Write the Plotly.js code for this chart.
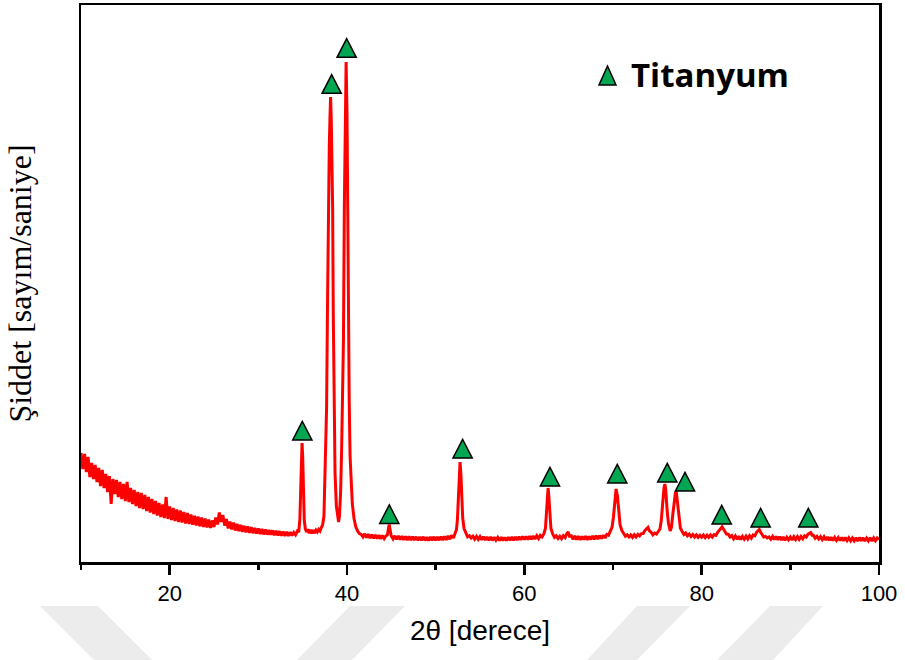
<!DOCTYPE html>
<html>
<head>
<meta charset="utf-8">
<script src="https://cdn.plot.ly/plotly-3.0.1.min.js"></script>
<style>
  html, body { margin: 0; padding: 0; background: #ffffff; }
  #chart { width: 905px; height: 660px; }
</style>
</head>
<body>
<div id="chart"></div>
<script>
// XRD scan of the titanium sample, 2θ = 10°–100°, split into scan segments.
const angleLowBg = [
  10.0, 10.2, 10.4, 10.6, 10.8, 11.0, 11.2, 11.4, 11.6, 11.8,
  12.0, 12.2, 12.4, 12.6, 12.8, 13.0, 13.2, 13.4, 13.6, 13.8,
  14.0, 14.2, 14.4, 14.6, 14.8, 15.0, 15.2, 15.4, 15.6, 15.8,
  16.0, 16.2, 16.4, 16.6, 16.8, 17.0, 17.2, 17.4, 17.6, 17.8,
  18.0, 18.2, 18.4, 18.6, 18.8, 19.0, 19.2, 19.4, 19.6, 19.8,
  20.0, 20.2, 20.4, 20.6, 20.8, 21.0, 21.2, 21.4, 21.6, 21.8,
  22.0, 22.2, 22.4, 22.6, 22.8, 23.0, 23.2, 23.4, 23.6, 23.8,
  24.0, 24.2, 24.4, 24.6, 24.8, 25.0, 25.2, 25.4, 25.6, 25.8,
  26.0, 26.2, 26.4, 26.6, 26.8, 27.0, 27.2, 27.4, 27.6, 27.8,
  28.0, 28.2, 28.4, 28.6, 28.8, 29.0, 29.2, 29.4, 29.6, 29.8,
  30.0, 30.2, 30.4, 30.6, 30.8, 31.0, 31.2, 31.4, 31.6, 31.8,
  32.0, 32.2, 32.4, 32.6, 32.8, 33.0, 33.2, 33.4, 33.6, 33.8, 34.0
];
const countsLowBg = [
  1090, 930, 1080, 900, 1050, 850, 990, 830, 970, 800,
  940, 760, 920, 740, 880, 700, 860, 580, 830, 680,
  820, 650, 800, 630, 780, 610, 800, 600, 740, 580,
  720, 560, 700, 540, 690, 530, 670, 510, 650, 495,
  630, 480, 610, 465, 590, 450, 575, 440, 650, 430,
  555, 420, 540, 410, 525, 400, 515, 395, 500, 385,
  490, 380, 475, 372, 462, 365, 455, 358, 445, 350,
  435, 345, 425, 340, 415, 350, 445, 375, 495, 400,
  470, 365, 430, 335, 405, 325, 395, 315, 382, 308,
  372, 302, 362, 296, 355, 292, 348, 288, 340, 284,
  335, 280, 330, 276, 325, 274, 320, 272, 316, 268,
  312, 266, 308, 264, 304, 262, 302, 262, 298, 264, 296
];

const angleMainPeaks = [
  34.2, 34.4, 34.55, 34.68, 34.78, 34.86, 34.93, 35.0, 35.08, 35.18,
  35.3, 35.45, 35.6, 35.75, 35.9, 36.05, 36.2, 36.35, 36.5, 36.65,
  36.8, 36.95, 37.1, 37.25, 37.4, 37.55, 37.7, 37.8, 37.9, 38.0,
  38.08, 38.15, 38.22, 38.3, 38.38, 38.45, 38.52, 38.65, 38.8, 38.95,
  39.05, 39.15, 39.28, 39.4, 39.5, 39.6, 39.7, 39.8, 39.9, 40.0,
  40.07, 40.15, 40.25, 40.35, 40.45, 40.6, 40.8, 41.0, 41.2, 41.4, 41.6
];
const countsMainPeaks = [
  272, 310, 300, 420, 760, 1100, 1190, 1060, 700, 420,
  330, 300, 328, 288, 322, 286, 320, 290, 318, 300,
  326, 310, 345, 370, 460, 900, 1550, 2550, 3550, 4150,
  4450, 4650, 4450, 4000, 3550, 2500, 1550, 890, 560, 430,
  400, 460, 700, 1150, 1600, 2220, 3550, 4400, 5000, 4500,
  3550, 2500, 1600, 1050, 800, 580, 430, 350, 310, 285, 275
];

const angleMid = [
  41.8, 42.0, 42.2, 42.4, 42.6, 42.8, 43.0, 43.2, 43.4, 43.6,
  43.8, 44.0, 44.2, 44.4, 44.55, 44.66, 44.76, 44.86, 44.98, 45.2,
  45.4, 45.6, 45.8, 46.0, 46.2, 46.4, 46.6, 46.8, 47.0, 47.2,
  47.4, 47.6, 47.8, 48.0, 48.2, 48.4, 48.6, 48.8, 49.0, 49.2,
  49.4, 49.6, 49.8, 50.0, 50.2, 50.4, 50.6, 50.8, 51.0, 51.2,
  51.4, 51.6, 51.8, 52.0, 52.2, 52.35, 52.45, 52.55, 52.65, 52.75,
  52.85, 52.95, 53.05, 53.2, 53.4, 53.6, 53.8, 54.0, 54.2, 54.4,
  54.6, 54.8, 55.0, 55.2, 55.4, 55.6, 55.8, 56.0, 56.2, 56.4,
  56.6, 56.8, 57.0, 57.2, 57.4, 57.6, 57.8, 58.0, 58.2, 58.4,
  58.6, 58.8, 59.0, 59.2, 59.4, 59.6, 59.8, 60.0, 60.2, 60.4,
  60.6, 60.8, 61.0, 61.2, 61.4, 61.6, 61.8, 62.0, 62.2, 62.38,
  62.5, 62.6, 62.68, 62.76, 62.86, 63.0, 63.2, 63.4, 63.6, 63.8,
  64.0, 64.2, 64.4, 64.6
];
const countsMid = [
  250, 282, 244, 278, 240, 274, 236, 270, 234, 268,
  232, 266, 234, 262, 270, 325, 375, 322, 262, 230,
  262, 226, 260, 224, 258, 222, 256, 220, 256, 218,
  254, 220, 252, 216, 250, 218, 252, 216, 248, 214,
  250, 218, 252, 216, 250, 218, 254, 220, 256, 222,
  260, 228, 266, 240, 282, 325, 420, 650, 880, 1000,
  870, 620, 440, 335, 290, 252, 262, 240, 258, 228,
  256, 226, 254, 222, 252, 220, 250, 218, 250, 216,
  248, 218, 246, 214, 248, 216, 246, 214, 248, 218,
  250, 216, 250, 220, 252, 222, 254, 224, 256, 226,
  258, 228, 260, 230, 262, 234, 266, 250, 280, 335,
  500, 680, 740, 660, 470, 335, 280, 246, 262, 236,
  258, 232, 262, 244
];

const angleHigh = [
  64.8, 64.95, 65.1, 65.3, 65.5, 65.7, 65.9, 66.1, 66.3, 66.5,
  66.7, 66.9, 67.1, 67.3, 67.5, 67.7, 67.9, 68.1, 68.3, 68.5,
  68.7, 68.9, 69.1, 69.3, 69.5, 69.7, 69.9, 70.05, 70.2, 70.35,
  70.5, 70.65, 70.8, 71.0, 71.2, 71.4, 71.6, 71.8, 72.0, 72.2,
  72.4, 72.6, 72.8, 73.0, 73.2, 73.4, 73.6, 73.8, 73.95, 74.1,
  74.3, 74.5, 74.7, 74.9, 75.1, 75.3, 75.45, 75.6, 75.75, 75.85,
  75.95, 76.1, 76.25, 76.45, 76.6, 76.75, 76.9, 77.05, 77.15, 77.3,
  77.45, 77.6, 77.8, 78.0, 78.2, 78.4, 78.6, 78.8, 79.0, 79.2,
  79.4, 79.6, 79.8, 80.0
];
const countsHigh = [
  285, 300, 258, 262, 226, 260, 224, 258, 222, 256,
  224, 258, 222, 256, 226, 260, 228, 262, 230, 264,
  234, 268, 240, 276, 268, 305, 350, 450, 620, 730,
  660, 480, 370, 315, 290, 258, 272, 250, 270, 246,
  272, 250, 276, 262, 284, 285, 315, 335, 345, 312,
  298, 272, 290, 280, 305, 330, 420, 600, 740, 780,
  720, 520, 390, 310, 350, 480, 620, 700, 690, 560,
  420, 340, 305, 275, 290, 262, 280, 254, 274, 250,
  270, 246, 268, 248
];

const angleTail = [
  80.2, 80.4, 80.6, 80.8, 81.0, 81.2, 81.4, 81.6, 81.8, 82.0,
  82.15, 82.3, 82.45, 82.6, 82.8, 83.0, 83.2, 83.4, 83.6, 83.8,
  84.0, 84.2, 84.4, 84.6, 84.8, 85.0, 85.2, 85.4, 85.6, 85.8,
  86.0, 86.2, 86.35, 86.5, 86.65, 86.8, 87.0, 87.2, 87.4, 87.6,
  87.8, 88.0, 88.2, 88.4, 88.6, 88.8, 89.0, 89.2, 89.4, 89.6,
  89.8, 90.0, 90.2, 90.4, 90.6, 90.8, 91.0, 91.2, 91.4, 91.6,
  91.8, 92.0, 92.15, 92.3, 92.45, 92.6, 92.8, 93.0, 93.2, 93.4,
  93.6, 93.8, 94.0, 94.2, 94.4, 94.6, 94.8, 95.0, 95.2, 95.4,
  95.6, 95.8, 96.0, 96.2, 96.4, 96.6, 96.8, 97.0, 97.2, 97.4,
  97.6, 97.8, 98.0, 98.2, 98.4, 98.6, 98.8, 99.0, 99.2, 99.4,
  99.6, 99.8, 100.0
];
const countsTail = [
  270, 244, 268, 246, 270, 250, 274, 266, 296, 318,
  342, 352, 330, 310, 280, 278, 250, 264, 232, 260,
  228, 258, 226, 256, 228, 258, 230, 262, 238, 270,
  262, 298, 312, 325, 298, 282, 250, 256, 240, 250,
  228, 256, 224, 254, 222, 252, 220, 250, 218, 248,
  222, 250, 220, 252, 224, 254, 226, 256, 232, 262,
  250, 280, 290, 295, 268, 268, 238, 256, 230, 254,
  224, 252, 220, 250, 218, 248, 216, 246, 216, 244,
  214, 246, 212, 244, 214, 242, 212, 240, 212, 242,
  210, 244, 212, 242, 210, 240, 212, 242, 210, 240,
  212, 240, 226
];

// Reflections identified as titanium: marker position and the height of its base
const titaniumAngle = [34.96, 38.27, 39.96, 44.77, 53.04, 62.89, 70.48, 76.12, 78.12, 82.26, 86.65, 92.03];
const titaniumMarkBase = [1220, 4687, 5047, 385, 1040, 760, 790, 800, 710, 380, 350, 350];

const legendLabel = 'Titanyum';
const xTitle = '2θ [derece]';
const yTitle = 'Şiddet [sayım/saniye]';

const twoTheta = [].concat(angleLowBg, angleMainPeaks, angleMid, angleHigh, angleTail);
const intensity = [].concat(countsLowBg, countsMainPeaks, countsMid, countsHigh, countsTail);

const GREEN = '#00A651';
const TRIANGLE = 'M-9.6,0 L9.6,0 L0,18.6 Z';

const shapes = [];

// faint page watermark stripes in the lower margin (pixel polygons -> paper fractions)
const PLOT = { l: 81, t: 5, w: 798, h: 557 };
function pxPath(pts) {
  return pts.map(function (p, i) {
    const xp = (p[0] - PLOT.l) / PLOT.w;
    const yp = (PLOT.t + PLOT.h - p[1]) / PLOT.h;
    return (i ? 'L' : 'M') + xp.toFixed(4) + ',' + yp.toFixed(4);
  }).join(' ') + ' Z';
}
const stripes = [
  [[40, 606], [98, 606], [152, 660], [94, 660]],
  [[350, 606], [405, 606], [352, 660], [297, 660]],
  [[637, 606], [690, 606], [637, 660], [587, 660]],
  [[770, 606], [823, 606], [773, 660], [717, 660]]
];
stripes.forEach(function (s) {
  shapes.push({
    type: 'path', xref: 'paper', yref: 'paper', layer: 'below',
    path: pxPath(s), fillcolor: '#ececec', line: { width: 0 }
  });
});

// peak markers
titaniumAngle.forEach(function (a, i) {
  shapes.push({
    type: 'path', xref: 'x', yref: 'y',
    xsizemode: 'pixel', ysizemode: 'pixel',
    xanchor: a, yanchor: titaniumMarkBase[i],
    path: TRIANGLE, fillcolor: GREEN,
    line: { color: '#000000', width: 1.5 }, layer: 'above'
  });
});

// key symbol
shapes.push({
  type: 'path', xref: 'paper', yref: 'paper',
  xsizemode: 'pixel', ysizemode: 'pixel',
  xanchor: (607.5 - PLOT.l) / PLOT.w, yanchor: (PLOT.t + PLOT.h - 85) / PLOT.h,
  path: 'M-8.5,0 L8.5,0 L0,19 Z', fillcolor: GREEN,
  line: { color: '#000000', width: 1.5 }, layer: 'above'
});

const trace = {
  type: 'scatter', mode: 'lines',
  x: twoTheta, y: intensity,
  line: { color: '#ff0000', width: 3 },
  showlegend: false, hoverinfo: 'x+y'
};

const layout = {
  width: 905, height: 660,
  margin: { l: 81, r: 26, t: 5, b: 98 },
  paper_bgcolor: '#ffffff', plot_bgcolor: 'rgba(0,0,0,0)',
  showlegend: false,
  xaxis: {
    range: [10, 100], tick0: 0, dtick: 20,
    ticks: 'outside', ticklen: 10, tickwidth: 2.5, tickcolor: '#000',
    minor: { dtick: 10, tick0: 0, ticks: 'outside', ticklen: 5, tickwidth: 2.5, tickcolor: '#000', showgrid: false },
    showline: true, linewidth: 2.5, linecolor: '#000', mirror: true,
    showgrid: false, zeroline: false,
    tickfont: { family: 'Liberation Sans, Arial, sans-serif', size: 22, color: '#000' },
    title: { text: xTitle, font: { family: 'Liberation Sans, Arial, sans-serif', size: 28, color: '#000' }, standoff: 16 }
  },
  yaxis: {
    range: [0, 5570],
    showticklabels: false, ticks: '',
    showline: true, linewidth: 2.5, linecolor: '#000', mirror: true,
    showgrid: false, zeroline: false,
    title: { text: yTitle, font: { family: 'Liberation Serif, Times New Roman, serif', size: 32, color: '#000' }, standoff: 38 }
  },
  shapes: shapes,
  annotations: [{
    xref: 'paper', yref: 'paper',
    x: (629 - PLOT.l) / PLOT.w, y: (PLOT.t + PLOT.h - 74) / PLOT.h,
    xanchor: 'left', yanchor: 'middle', showarrow: false,
    text: '<b>' + legendLabel + '</b>',
    font: { family: 'Open Sans, sans-serif', size: 33, color: '#000' }
  }]
};

Plotly.newPlot('chart', [trace], layout, { displayModeBar: false, staticPlot: true });
</script>
</body>
</html>
